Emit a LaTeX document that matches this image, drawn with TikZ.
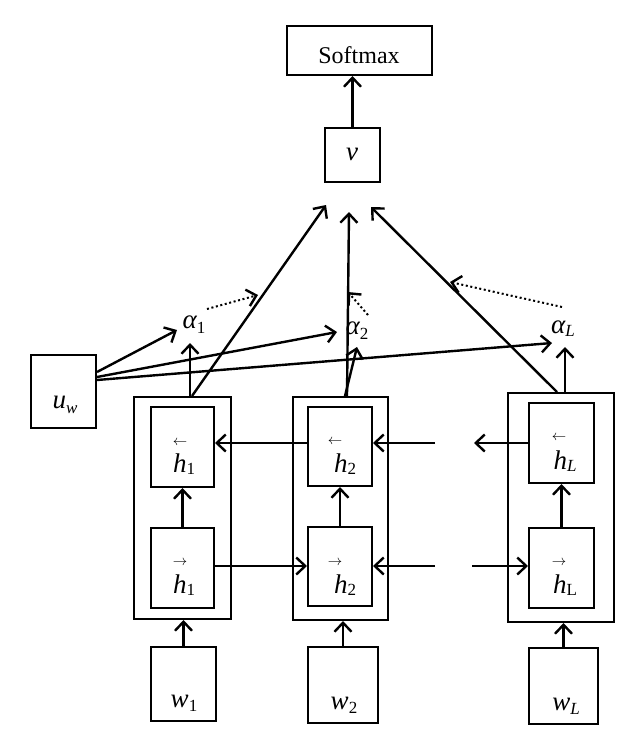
\documentclass[tikz,border=0pt]{standalone}
\usepackage{fontspec}
\setmainfont{Liberation Serif}
\usetikzlibrary{arrows.meta}
\newcommand{\bigf}{\fontsize{27}{29}\selectfont}
\newcommand{\subf}{\fontsize{17}{19}\selectfont}
\newcommand{\sv}[3]{{\bigf\itshape #1}\raisebox{-#3}{\subf #2}}
\begin{document}
\begin{tikzpicture}[x=1pt,y=-1pt,
  box/.style={draw,line width=2pt,inner sep=0pt},
  arr/.style={line width=2.4pt,-{Straight Barb[length=9pt,width=17pt,line width=2.4pt]}},
  dotarr/.style={line width=2pt,dash pattern=on 2pt off 2.6pt,-{Straight Barb[length=9pt,width=17pt,line width=2.4pt]}},
  lbl/.style={inner sep=0pt,anchor=base},
  sarr/.style={inner sep=0pt,font=\fontsize{15}{15}\selectfont}]
\useasboundingbox (0,0) rectangle (640,740);
% top boxes
\node[box,minimum width=145pt,minimum height=49pt] (soft) at (359.5,50.5) {};
\node[lbl,font=\fontsize{24}{24}\selectfont] (softt) at (359,63) {Softmax};
\node[box,minimum width=55pt,minimum height=54pt] (v) at (352.5,155) {};
\node[lbl] (vt) at (352,160) {\bigf\itshape v};
% u_w
\node[box,minimum width=65pt,minimum height=73pt] (uw) at (63.5,391.5) {};
\node[lbl] (uwt) at (65,408) {\sv{u}{\itshape w}{5pt}};
% blocks
\node[box,minimum width=97pt,minimum height=222pt] (B1) at (182.5,508) {};
\node[box,minimum width=63pt,minimum height=80pt] (h1b) at (182.5,447) {};
\node[box,minimum width=63pt,minimum height=80pt] (h1f) at (182.5,568) {};
\node[box,minimum width=95pt,minimum height=223pt] (B2) at (340.5,508.5) {};
\node[box,minimum width=64pt,minimum height=79pt] (h2b) at (340,446.5) {};
\node[box,minimum width=64pt,minimum height=79pt] (h2f) at (340,566.5) {};
\node[box,minimum width=106pt,minimum height=229pt] (BL) at (561,507.5) {};
\node[box,minimum width=65pt,minimum height=80pt] (hLb) at (561.5,443) {};
\node[box,minimum width=65pt,minimum height=80pt] (hLf) at (561.5,568) {};
% h labels
\node[sarr] (a1b) at (180,443) {$\leftarrow$};
\node[lbl] (t1b) at (184,472) {\sv{h}{1}{2pt}};
\node[sarr] (a1f) at (180,563) {$\rightarrow$};
\node[lbl] (t1f) at (184,593) {\sv{h}{1}{2pt}};
\node[sarr] (a2b) at (335,442) {$\leftarrow$};
\node[lbl] (t2b) at (345,472) {\sv{h}{2}{2pt}};
\node[sarr] (a2f) at (335,563) {$\rightarrow$};
\node[lbl] (t2f) at (345,593) {\sv{h}{2}{2pt}};
\node[sarr] (aLb) at (559,438) {$\leftarrow$};
\node[lbl] (tLb) at (565,469) {\sv{h}{\itshape L}{2pt}};
\node[sarr] (aLf) at (559,563) {$\rightarrow$};
\node[lbl] (tLf) at (565,593) {\sv{h}{L}{2pt}};
% w boxes
\node[box,minimum width=65pt,minimum height=74pt] (w1) at (183.5,684) {};
\node[lbl] (w1t) at (184,707) {\sv{w}{1}{4pt}};
\node[box,minimum width=70pt,minimum height=76pt] (w2) at (343,685) {};
\node[lbl] (w2t) at (344,709) {\sv{w}{2}{4pt}};
\node[box,minimum width=69pt,minimum height=76pt] (wL) at (563.5,686) {};
\node[lbl] (wLt) at (566,710) {\sv{w}{\itshape L}{4pt}};
% alpha labels
\node[lbl] (al1) at (194,328) {\sv{α}{1}{5pt}};
\node[lbl] (al2) at (357,334) {\sv{α}{2}{5pt}};
\node[lbl] (alL) at (563,333) {\sv{α}{\itshape L}{3pt}};
% coordinates
\coordinate (vin1) at (326,205);
\coordinate (vin2) at (349,212);
\coordinate (vin3) at (371,207);
\coordinate (a1in) at (190,343);
\coordinate (a2in) at (357,347);
\coordinate (aLin) at (565,347);
\coordinate (u1) at (177,330);
\coordinate (u2) at (337,332);
\coordinate (u3) at (552,343);
\coordinate (d1s) at (207,309);
\coordinate (d1e) at (258,295);
\coordinate (d2s) at (368,315);
\coordinate (d2e) at (348,292);
\coordinate (d3s) at (562,307);
\coordinate (d3e) at (450,282);
\coordinate (r1) at (0,443);
\coordinate (r2) at (0,566);
\coordinate (g1) at (435,443);
\coordinate (g2) at (474,443);
\coordinate (g3) at (435,566);
\coordinate (g4) at (472,566);
% connectors
\draw[arr] (v.north) -- (v.north |- soft.south);
\draw[arr] ([xshift=9.5pt]B1.north) -- (vin1);
\draw[arr] ([xshift=6.5pt]B2.north) -- (vin2);
\draw[arr] ([xshift=-4pt]BL.north) -- (vin3);
\draw[arr] ([xshift=7.5pt]B1.north) -- (a1in);
\draw[arr] ([xshift=4.5pt]B2.north) -- (a2in);
\draw[arr] ([xshift=4pt]BL.north) -- (aLin);
\draw[arr] ([yshift=19.5pt]uw.east) -- (u1);
\draw[arr] ([yshift=14.5pt]uw.east) -- (u2);
\draw[arr] ([yshift=11.5pt]uw.east) -- (u3);
\draw[dotarr] (d1s) -- (d1e);
\draw[dotarr] (d2s) -- (d2e);
\draw[dotarr] (d3s) -- (d3e);
\draw[arr] (w1.north) -- (w1.north |- B1.south);
\draw[arr] (w2.north) -- (w2.north |- B2.south);
\draw[arr] (wL.north) -- (wL.north |- BL.south);
\draw[arr] (h1f.north) -- (h1b.south);
\draw[arr] (h2f.north) -- (h2b.south);
\draw[arr] (hLf.north) -- (hLb.south);
\draw[arr] (h2b.west |- r1) -- (h1b.east |- r1);
\draw[arr] (g1) -- (g1 -| h2b.east);
\draw[arr] (g2 -| hLb.west) -- (g2);
\draw[arr] (h1f.east |- r2) -- (h2f.west |- r2);
\draw[arr] (g3) -- (g3 -| h2f.east);
\draw[arr] (g4) -- (g4 -| hLf.west);
\end{tikzpicture}
\end{document}
